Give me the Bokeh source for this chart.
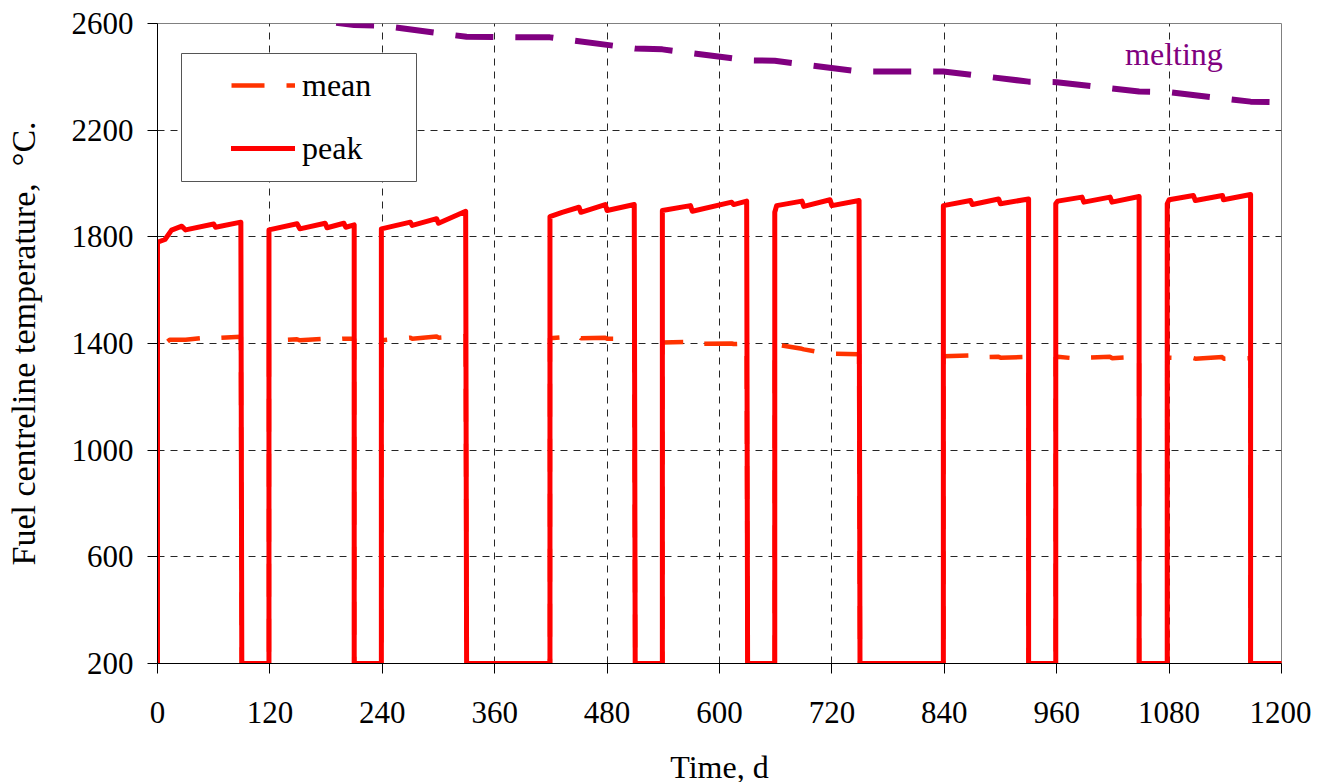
from bokeh.plotting import figure
from bokeh.models import Range1d, FixedTicker, Legend, LegendItem, BoxAnnotation, Label
from bokeh.embed import file_html
from bokeh.resources import INLINE

# ---- data ----
x_ticks = [0, 120, 240, 360, 480, 600, 720, 840, 960, 1080, 1200]
y_ticks = [200, 600, 1000, 1400, 1800, 2200, 2600]

peak_t = [0, 0, 8, 15, 26, 30, 60, 62, 89, 90,
          119, 119, 149, 152, 179, 181, 199, 201, 210, 210,
          239, 239, 270, 272, 298, 300, 329, 330,
          419, 419, 432, 450, 452, 478, 480, 509, 510,
          539, 539, 569, 571, 613, 615, 629, 630,
          659, 659, 661, 688, 690, 718, 720, 749, 750,
          839, 839, 868, 870, 898, 900, 930, 930,
          959, 959, 961, 987, 989, 1017, 1019, 1048, 1048,
          1078, 1078, 1080, 1106, 1108, 1137, 1138, 1167, 1167, 1200]
peak_v = [200, 1780, 1790, 1825, 1840, 1826, 1848, 1836, 1855, 200,
          200, 1826, 1849, 1830, 1851, 1834, 1851, 1836, 1845, 200,
          200, 1830, 1855, 1843, 1868, 1851, 1896, 200,
          200, 1876, 1892, 1911, 1892, 1921, 1899, 1921, 200,
          200, 1899, 1917, 1896, 1930, 1921, 1934, 200,
          200, 1892, 1917, 1934, 1914, 1939, 1917, 1936, 200,
          200, 1917, 1936, 1921, 1942, 1924, 1942, 200,
          200, 1924, 1934, 1949, 1930, 1949, 1930, 1951, 200,
          200, 1924, 1939, 1955, 1936, 1955, 1939, 1959, 200, 200]

mean_t = [0, 0, 10, 13, 30, 60, 62, 89, 90,
          119, 119, 149, 152, 179, 181, 199, 210, 210,
          239, 239, 270, 272, 298, 300, 329, 330,
          419, 419, 450, 452, 478, 480, 509, 510,
          539, 539, 569, 571, 613, 615, 629, 630,
          659, 659, 661, 688, 690, 718, 720, 749, 750,
          839, 839, 868, 870, 898, 900, 930, 930,
          959, 959, 961, 987, 989, 1017, 1019, 1048, 1048,
          1078, 1078, 1080, 1106, 1108, 1137, 1138, 1167, 1167, 1200]
mean_v = [200, 1398, 1405, 1414, 1414, 1425, 1420, 1425, 200,
          200, 1410, 1416, 1412, 1418, 1413, 1418, 1418, 200,
          200, 1412, 1422, 1418, 1426, 1422, 1428, 200,
          200, 1420, 1428, 1420, 1422, 1418, 1418, 200,
          200, 1404, 1406, 1398, 1400, 1398, 1400, 200,
          200, 1392, 1396, 1380, 1378, 1360, 1362, 1360, 200,
          200, 1352, 1355, 1348, 1350, 1347, 1350, 200,
          200, 1348, 1350, 1342, 1347, 1350, 1345, 1350, 200,
          200, 1345, 1347, 1345, 1343, 1349, 1343, 1345, 200, 200]

melt_t = [0, 90, 119, 210, 239, 330, 419, 510, 539, 630, 659, 750,
          839, 930, 960, 1048, 1078, 1167, 1200]
melt_v = [2680, 2640, 2636, 2594, 2592, 2550, 2548, 2506, 2503, 2462, 2460, 2420,
          2420, 2382, 2380, 2345, 2343, 2307, 2305]

FONT = "Liberation Serif"

p = figure(frame_width=1124, frame_height=640,
           x_range=Range1d(0, 1200), y_range=Range1d(200, 2600),
           output_backend="svg", toolbar_location=None,
           min_border_left=157, min_border_top=23, min_border_right=30,
           min_border_bottom=110,
           background_fill_color="white", border_fill_color="white")

p.outline_line_color = "#808080"
p.outline_line_width = 1

for ax in (p.xaxis[0], p.yaxis[0]):
    ax.major_label_text_font = FONT
    ax.major_label_text_font_size = "31px"
    ax.major_label_text_color = "black"
    ax.axis_label_text_font = FONT
    ax.axis_label_text_font_size = "32px"
    ax.axis_label_text_font_style = "normal"
    ax.axis_label_text_color = "black"
    ax.axis_line_color = "black"
    ax.major_tick_line_color = "black"
    ax.major_tick_out = 10
    ax.major_tick_in = 0
    ax.minor_tick_line_color = None

p.xaxis.ticker = FixedTicker(ticks=x_ticks)
p.yaxis.ticker = FixedTicker(ticks=y_ticks)
p.xaxis.axis_label = "Time, d"
p.yaxis.axis_label = "Fuel centreline temperature,\u00a0 °C."
p.yaxis.axis_label_text_font_size = "34px"
p.xaxis.major_label_standoff = 28
p.xaxis.axis_label_standoff = 23
p.yaxis.major_label_standoff = 14
p.yaxis.axis_label_standoff = 27

for g in (p.xgrid[0], p.ygrid[0]):
    g.grid_line_color = "black"
    g.grid_line_width = 1
    g.grid_line_dash = "7 6"
    g.grid_line_alpha = 0.85

melt_r = p.line(melt_t, melt_v, line_color="#800080", line_width=6,
                line_dash="38 22", line_cap="butt")
mean_r = p.line(mean_t, mean_v, line_color="#FF3300", line_width=4.5,
                line_dash="33 22", line_cap="butt")
peak_r = p.line(peak_t, peak_v, line_color="#FF0000", line_width=5,
                line_join="round", line_cap="round")

p.add_layout(Label(x=1033, y=2484, text="melting", text_font=FONT,
                   text_font_size="32px", text_color="#800080",
                   text_baseline="alphabetic"))

box = BoxAnnotation(left=24, right=259, bottom=482, top=610,
                    left_units="screen", right_units="screen",
                    bottom_units="screen", top_units="screen",
                    fill_color="white", fill_alpha=1.0,
                    line_color="#555555", line_width=1, line_alpha=1.0)
p.add_layout(box)

legend = Legend(items=[LegendItem(label="mean", renderers=[mean_r]),
                       LegendItem(label="peak", renderers=[peak_r])],
                location=(74, 495), padding=0, margin=0,
                border_line_alpha=0, background_fill_alpha=0,
                glyph_width=64, glyph_height=40, label_height=40,
                spacing=23, label_standoff=7,
                label_text_font=FONT, label_text_font_size="32px",
                label_text_color="black")
p.add_layout(legend)

open("out.html", "w").write(file_html(p, INLINE))
